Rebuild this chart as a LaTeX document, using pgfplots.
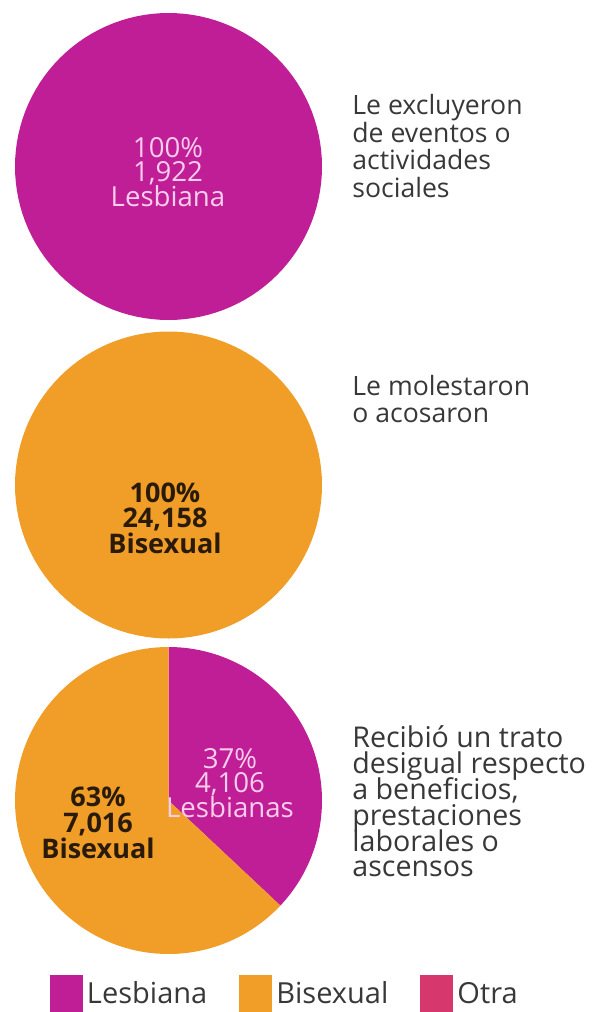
\documentclass[border=0pt]{standalone}
\usepackage{fontspec}
\setmainfont{Open Sans}
\usepackage{pgfplots}
\pgfplotsset{compat=1.18}
\usepackage{pgfplotstable}

\definecolor{mag}{HTML}{BF1E96}
\definecolor{nar}{HTML}{F09E27}
\definecolor{otra}{HTML}{D6376D}
\definecolor{rosa}{HTML}{F9CDEC}
\definecolor{oscuro}{HTML}{2A1A0A}
\definecolor{gris}{HTML}{383838}

% one small table per pie: share (%) and count
\pgfplotstableread{
grupo pct n
Lesbiana 100 1922
}\pieA
\pgfplotstableread{
grupo pct n
Bisexual 100 24158
}\pieB
\pgfplotstableread{
grupo pct n
Lesbianas 37 4106
Bisexual 63 7016
}\pieC

\pgfplotstablegetelem{0}{pct}\of\pieA \edef\pcA{\pgfplotsretval}%
\pgfplotstablegetelem{0}{pct}\of\pieB \edef\pcB{\pgfplotsretval}%
\pgfplotstablegetelem{0}{pct}\of\pieC \edef\pcCl{\pgfplotsretval}%
\pgfplotstablegetelem{1}{pct}\of\pieC \edef\pcCb{\pgfplotsretval}%

\newcommand\rr{153.5}
% wedge: centre x, centre y, cumulative start %, cumulative end %, colour
\newcommand\slice[5]{%
  \addplot[fill=#5, draw=none, forget plot, samples=121,
    domain={90-3.6*(#4)}:{90-3.6*(#3)}]
    ({#1+\rr*cos(x)}, {#2-\rr*sin(x)}) -- (axis cs:#1,#2) -- cycle;
}
\newcommand\tight[2]{\fontsize{#1}{#2}\selectfont\lineskiplimit=-\maxdimen}

\begin{document}
\begin{tikzpicture}
\begin{axis}[
    width=297.5pt, height=506pt, scale only axis,
    xmin=0, xmax=595, ymin=0, ymax=1012, y dir=reverse,
    axis lines=none, clip=false,
    legend columns=3,
    legend style={at={(axis cs:50,1012)}, anchor=south west, draw=none, fill=none,
      inner sep=0pt, outer sep=0pt,
      nodes={inner sep=2pt},
      font=\fontsize{14.5}{15}\selectfont\color{gris},
      /tikz/every even column/.append style={column sep=14pt}},
    legend image code/.code={\fill[#1, draw=none] (0pt,-9pt) rectangle (16.5pt,9.5pt);},
  ]
\coordinate (bbA) at (rel axis cs:0,0);
\coordinate (bbB) at (rel axis cs:1,1);

\slice{168.5}{166.5}{0}{\pcA}{mag}
\slice{168.5}{485}{0}{\pcB}{nar}
\slice{168.5}{800.5}{0}{\pcCl}{mag}
\slice{168.5}{800.5}{\pcCl}{\pcCl+\pcCb}{nar}

\addlegendimage{fill=mag}
\addlegendentry{Lesbiana}
\addlegendimage{fill=nar}
\addlegendentry{Bisexual}
\addlegendimage{fill=otra}
\addlegendentry{Otra}

\begin{scope}[every node/.style={inner sep=0pt, align=center, font=\tight{13.8}{12.4}}]
\node[text=rosa] at (axis cs:168,172) {100\%\\1,922\\Lesbiana};
\node[text=oscuro, font=\tight{13.5}{12.7}\bfseries] at (axis cs:165,518) {100\%\\24,158\\Bisexual};
\node[text=rosa] at (axis cs:230,783) {37\%\\4,106\\Lesbianas};
\node[text=oscuro, font=\tight{13.5}{13}\bfseries] at (axis cs:98,823) {63\%\\7,016\\Bisexual};
\end{scope}

\begin{scope}[every node/.style={inner sep=0pt, anchor=west, align=left, text=gris}]
\node[font=\tight{13.3}{13.75}] at (axis cs:352,146) {Le excluyeron\\de eventos o\\actividades\\sociales};
\node[font=\tight{13.3}{13.75}] at (axis cs:352,399) {Le molestaron\\o acosaron};
\node[font=\tight{14.3}{12.9}] at (axis cs:352,801.5) {Recibió un trato\\desigual respecto\\a beneficios,\\prestaciones\\laborales o\\ascensos};
\end{scope}
\end{axis}
\pgfresetboundingbox
\path (bbA) rectangle (bbB);
\end{tikzpicture}
\end{document}
